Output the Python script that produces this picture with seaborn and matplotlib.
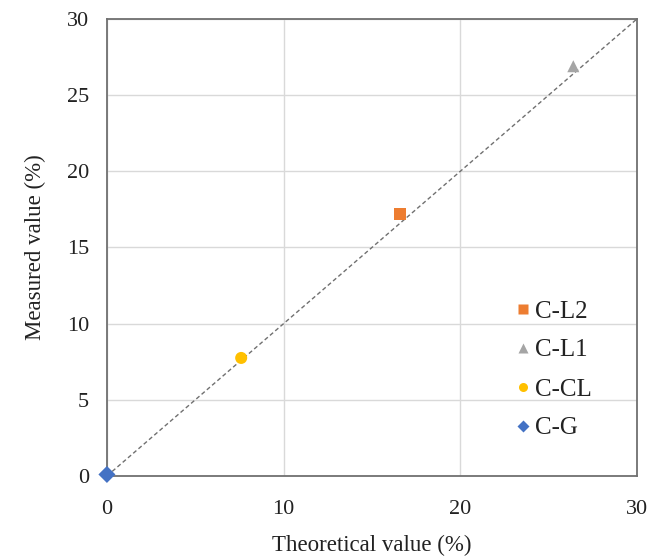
import matplotlib
matplotlib.use("Agg")
import matplotlib.pyplot as plt
import seaborn as sns
import pandas as pd

samples = ["C-L2", "C-L1", "C-CL", "C-G"]
theoretical = [16.6, 26.4, 7.6, 0.0]
measured = [17.2, 26.9, 7.75, 0.1]
colors = ["#ED7D31", "#A5A5A5", "#FFC000", "#4472C4"]
markers = ["s", "^", "o", "D"]
ticks = [0, 10, 20, 30]
yticks = [0, 5, 10, 15, 20, 25, 30]

sns.set_theme(style="white")
plt.rcParams['font.family'] = ['Liberation Serif', 'DejaVu Serif']

df = pd.DataFrame({"Theoretical": theoretical, "Measured": measured, "Sample": samples})

fig = plt.figure(figsize=(6.6, 5.59), dpi=100)
ax = fig.add_axes([0.162, 0.1485, 0.803, 0.8175])

ax.plot([0, 30], [0, 30], linestyle=(0, (3, 2)), color="#707070", linewidth=1.0, zorder=1)

sns.scatterplot(data=df, x="Theoretical", y="Measured", hue="Sample", style="Sample",
                hue_order=samples, style_order=samples,
                palette=dict(zip(samples, colors)), markers=dict(zip(samples, markers)),
                s=75, edgecolor="none", ax=ax, zorder=3, clip_on=False)

ax.set_xlim(0, 30)
ax.set_ylim(0, 30)
ax.set_xticks(ticks)
ax.set_yticks(yticks)
ax.tick_params(labelsize=16, length=0, colors="#222222")
ax.tick_params(axis="x", pad=17)
ax.tick_params(axis="y", pad=13)
ax.grid(True, color="#D9D9D9", linewidth=1.0)
ax.set_axisbelow(True)
for sp in ax.spines.values():
    sp.set_color("#707070")
    sp.set_linewidth(1.3)
ax.set_xlabel("Theoretical value (%)", fontsize=16.5, color="#222222", labelpad=12)
ax.set_ylabel("Measured value (%)", fontsize=16.5, color="#222222", labelpad=15)

leg = ax.legend(loc="upper left", bbox_to_anchor=(513 / 660, 1 - 300 / 559),
                bbox_transform=fig.transFigure, frameon=False, fontsize=18,
                handlelength=0.8, handletextpad=0.1, labelspacing=0.66,
                borderpad=0, borderaxespad=0, markerscale=0.75)
for t in leg.get_texts():
    t.set_color("#222222")

fig.savefig("out.png", dpi=100)
